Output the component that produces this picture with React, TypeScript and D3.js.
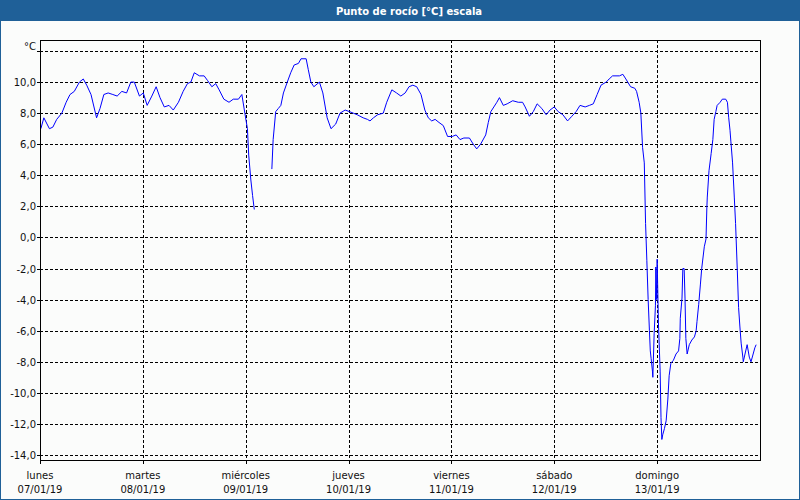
import React from "react";
import * as d3 from "d3";

const title = "Punto de rocío [°C] escala";
const unitLabel = "°C";
const dayNames = ["lunes", "martes", "miércoles", "jueves", "viernes", "sábado", "domingo"];
const dayDates = ["07/01/19", "08/01/19", "09/01/19", "10/01/19", "11/01/19", "12/01/19", "13/01/19"];
const yTicks = [12, 10, 8, 6, 4, 2, 0, -2, -4, -6, -8, -10, -12, -14];

// hours since Monday 07/01/19 00:00
const hours = [
  0.2, 0.9, 2.2, 3.0, 3.9, 5.1, 6.1, 7.0, 8.0, 9.2, 10.1, 10.9, 11.9, 13.2, 14.0, 14.9, 15.9, 17.0, 18.0, 19.1,
  20.2, 21.2, 22.0, 23.2, 24.1, 25.0, 26.1, 27.1, 28.0, 29.0, 30.1, 31.1, 32.3, 33.4, 34.4, 35.2, 36.0, 37.2, 38.3, 39.1,
  40.1, 41.0, 41.8, 42.9, 44.1, 45.1, 46.3, 47.1, 47.8, 48.4, 48.7, 49.2, 49.6, 50.0, 52.0,
  54.1, 54.4, 55.0, 55.6, 56.2, 56.8, 57.7, 58.5, 59.3, 60.3, 60.9, 62.1, 62.6, 63.2, 63.9, 65.2, 66.0, 67.0, 67.9, 69.0,
  70.0, 71.2, 72.2, 73.1, 74.0, 75.4, 76.4, 77.0, 77.8, 78.8, 80.1, 80.9, 82.1, 83.2, 84.2, 85.2, 86.1, 87.0, 87.9, 88.9,
  89.8, 90.6, 91.4, 92.2, 93.1, 94.1, 95.1, 96.2, 97.1, 98.0, 98.9, 100.2, 101.1, 101.9, 102.8, 104.0, 104.6, 105.2, 105.9, 106.6,
  107.2, 108.1, 109.0, 110.3, 111.6, 112.6, 113.2, 114.2, 115.1, 116.0, 117.1, 118.1, 119.0, 120.0, 120.9, 122.0, 123.1, 124.1, 125.1, 126.0,
  127.2, 128.2, 129.1, 130.0, 130.9, 132.1, 132.8, 133.6, 135.2, 136.0, 136.7, 137.8, 138.8, 139.2, 139.8, 140.2, 140.6, 141.0, 141.3, 141.6,
  141.9, 142.2, 142.4, 142.6, 142.9, 143.0, 143.3, 143.6, 143.7, 143.9, 144.0, 144.3, 144.7, 144.9, 145.1, 145.3, 145.7, 146.1, 146.5, 146.8,
  147.2, 147.8, 148.4, 149.0, 149.3, 149.4, 149.8, 150.0, 150.3, 150.5, 150.7, 151.0, 151.5, 152.1, 152.7, 153.1, 153.3, 153.7, 154.1, 154.4,
  155.0, 155.4, 155.6, 155.7, 156.1, 156.6, 157.0, 157.3, 157.7, 158.0, 158.7, 159.2, 160.0, 160.4, 160.7, 161.0, 161.2, 161.6, 162.0, 162.3,
  162.7, 163.0, 163.3, 163.6, 164.0, 164.1, 164.5, 165.0, 165.5, 165.9, 166.4, 166.8, 167.1,
];

const dewPoint: (number | null)[] = [
  7.0, 7.7, 7.0, 7.1, 7.6, 8.0, 8.7, 9.2, 9.4, 10.0, 10.2, 9.8, 9.2, 7.7, 8.3, 9.2, 9.3, 9.2, 9.1, 9.4,
  9.3, 10.0, 10.0, 9.1, 9.3, 8.5, 9.1, 9.7, 9.0, 8.4, 8.5, 8.2, 8.7, 9.4, 9.9, 10.0, 10.6, 10.4, 10.4, 10.1,
  9.7, 9.9, 9.5, 8.9, 8.7, 8.9, 8.9, 9.2, 8.0, 7.0, 5.3, 3.7, 2.7, 1.8, null,
  4.4, 6.3, 8.1, 8.3, 8.5, 9.3, 10.0, 10.6, 11.1, 11.2, 11.5, 11.5, 10.8, 10.0, 9.7, 10.0, 9.3, 7.7, 7.0, 7.3,
  8.0, 8.2, 8.1, 8.0, 7.9, 7.7, 7.6, 7.5, 7.7, 7.9, 8.0, 8.7, 9.5, 9.3, 9.1, 9.3, 9.7, 9.8, 9.7, 9.2,
  8.2, 7.7, 7.5, 7.6, 7.4, 7.2, 6.5, 6.5, 6.6, 6.3, 6.4, 6.4, 6.0, 5.7, 6.0, 6.6, 7.4, 8.1, 8.4, 8.7,
  9.0, 8.5, 8.6, 8.8, 8.7, 8.7, 8.4, 7.8, 8.1, 8.6, 8.3, 7.9, 8.2, 8.4, 8.1, 7.9, 7.5, 7.8, 8.1, 8.5,
  8.4, 8.5, 8.6, 9.2, 9.8, 10.0, 10.2, 10.4, 10.4, 10.5, 10.2, 9.7, 9.6, 9.4, 8.7, 8.0, 5.8, 4.8, 0.9, -1.5,
  -4.0, -6.0, -7.3, -7.8, -8.6, -9.0, -6.2, -4.4, -1.9, -4.0, -1.4, -5.5, -8.6, -11.6, -13.0, -12.7, -12.3, -11.8, -10.4, -8.9,
  -8.1, -7.9, -7.5, -7.3, -6.5, -5.2, -3.9, -2.0, -2.0, -3.9, -6.5, -7.5, -6.9, -6.6, -6.4, -6.0, -5.4, -4.3, -3.0, -2.0,
  -0.6, -0.1, 1.9, 2.6, 4.3, 5.4, 6.3, 7.6, 8.1, 8.5, 8.7, 8.9, 8.9, 8.7, 7.7, 6.9, 6.2, 4.8, 2.6, 0.9,
  -2.1, -4.5, -5.7, -6.8, -7.7, -8.0, -7.5, -6.9, -7.7, -8.0, -7.5, -7.1, -6.9,
];

const W = 800;
const H = 500;
const PL = 40, PR = 760, PT = 40, PB = 460;
const FONT = "'DejaVu Sans', Verdana, sans-serif";
const BAR = "#1f6098";

export default function App() {
  const x = d3.scaleLinear().domain([0, 168]).range([PL, PR]);
  const y = d3.scaleLinear().domain([-14, 12]).range([455, 51]);

  const pts = hours.map((h, i) => ({ h, v: dewPoint[i] }));
  const line = d3
    .line<{ h: number; v: number | null }>()
    .defined((d) => d.v !== null)
    .x((d) => x(d.h))
    .y((d) => y(d.v as number));

  const dayTicks = d3.range(0, 7).map((i) => i * 24);
  const snap = (v: number) => Math.round(v) + 0.5;

  return (
    <svg
      width={W}
      height={H}
      style={{ position: "absolute", left: 0, top: 0, display: "block" }}
      fontFamily={FONT}
    >
      <rect x={0} y={0} width={W} height={H} fill="#fbfcfb" />
      <rect x={0} y={0} width={W} height={21} fill={BAR} />
      <rect x={0.5} y={0.5} width={W - 1} height={H - 1} fill="none" stroke={BAR} strokeWidth={1} />
      <text x={409} y={15} textAnchor="middle" fill="#ffffff" fontWeight="bold" fontSize={10}>
        {title}
      </text>

      {/* horizontal grid */}
      {yTicks.map((t) => (
        <line
          key={"hg" + t}
          x1={PL}
          x2={PR}
          y1={snap(y(t))}
          y2={snap(y(t))}
          stroke="#000"
          strokeWidth={1}
          strokeDasharray="3,2"
          shapeRendering="crispEdges"
        />
      ))}
      {/* vertical grid */}
      {dayTicks.slice(1).map((t) => (
        <line
          key={"vg" + t}
          x1={snap(x(t))}
          x2={snap(x(t))}
          y1={PT}
          y2={PB}
          stroke="#000"
          strokeWidth={1}
          strokeDasharray="3,2"
          shapeRendering="crispEdges"
        />
      ))}

      {/* data line */}
      <path d={line(pts) || ""} fill="none" stroke="#0000ff" strokeWidth={1} />

      {/* frame */}
      <rect
        x={PL + 0.5}
        y={PT + 0.5}
        width={PR - PL}
        height={PB - PT}
        fill="none"
        stroke="#000"
        strokeWidth={1}
        shapeRendering="crispEdges"
      />

      {/* y ticks and labels */}
      {yTicks.map((t) => (
        <g key={"yt" + t}>
          <line x1={PL - 3} x2={PL} y1={snap(y(t))} y2={snap(y(t))} stroke="#000" shapeRendering="crispEdges" />
          {t !== 12 && (
            <text x={36} y={y(t) + 4} textAnchor="end" fontSize={10} fill="#111">
              {d3.format(".1f")(t).replace(".", ",").replace("−", "-")}
            </text>
          )}
        </g>
      ))}
      <text x={36} y={50} textAnchor="end" fontSize={10} fill="#111">
        {unitLabel}
      </text>

      {/* x ticks and labels */}
      {dayTicks.map((t, i) => (
        <g key={"xt" + t}>
          <line x1={snap(x(t))} x2={snap(x(t))} y1={PB} y2={PB + 4} stroke="#000" shapeRendering="crispEdges" />
          <text x={x(t)} y={479} textAnchor="middle" fontSize={10} fill="#111">
            {dayNames[i]}
          </text>
          <text x={x(t)} y={493} textAnchor="middle" fontSize={10} fill="#111">
            {dayDates[i]}
          </text>
        </g>
      ))}
    </svg>
  );
}
